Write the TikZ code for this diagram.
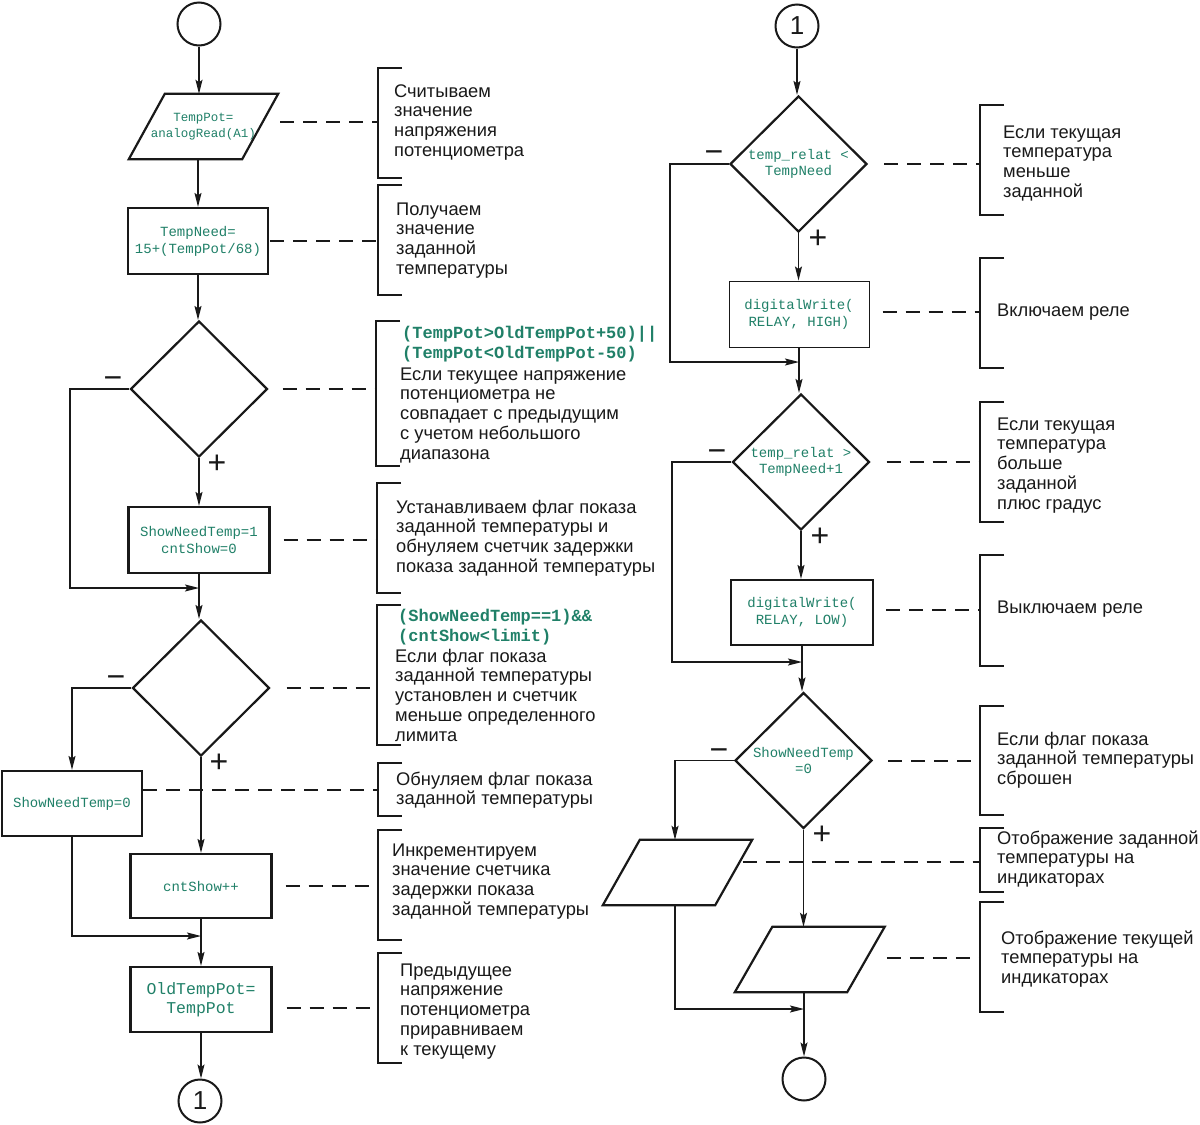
\documentclass[tikz,border=0pt]{standalone}
\usepackage{fontspec}
\setmainfont{Liberation Sans}
\newfontfamily\codefont{Liberation Mono}
\usetikzlibrary{arrows.meta,shapes.geometric}
\definecolor{codegreen}{RGB}{32,128,104}
\definecolor{ink}{RGB}{25,25,25}
\newcommand\firststrut{\rule{0pt}{16pt}}
\begin{document}
\begin{tikzpicture}[x=1pt,y=-1pt,
  every node/.style={inner sep=0pt},
  arr/.style={line width=1.4pt, draw=ink, -{Stealth[length=14pt,width=7pt,inset=2.5pt]}},
  shapeln/.style={draw=ink, line width=2.2pt, line join=miter},
  procbox/.style={draw=ink, line width=2.2pt, rectangle, align=center, text=codegreen,
    font=\codefont\fontsize{14}{17}\selectfont},
  decision/.style={draw=ink, line width=2.2pt, diamond, aspect=1, minimum width=137pt,
    minimum height=136pt, align=center, text=codegreen, font=\codefont\fontsize{14}{16.5}\selectfont},
  pbox/.style={rectangle, minimum width=113pt, minimum height=65pt, align=center, text=codegreen,
    font=\codefont\fontsize{12.5}{16}\selectfont},
  term/.style={draw=ink, circle, line width=2pt, minimum size=43pt, font=\fontsize{26}{26}\selectfont, text=ink},
  sign/.style={font=\fontsize{32}{32}\selectfont, text=ink},
  dashln/.style={draw=ink, line width=1.8pt, dash pattern=on 14pt off 9pt},
  brk/.style={draw=ink, line width=1.4pt},
  note/.style={anchor=north west, align=left, font=\fontsize{18.3}{19.7}\selectfont, text=ink},
  codenote/.style={anchor=north west, align=left, font=\codefont\bfseries\fontsize{17}{20}\selectfont, text=codegreen}
]
\fill[white] (0,0) rectangle (1200,1125);
\useasboundingbox (0,0) rectangle (1200,1125);

% ---------------- left column ----------------
\node[term] (s0) at (199,24) {};
\node[pbox] (p1) at (203.5,126.5) {TempPot=\\analogRead(A1)};
\draw[shapeln] ([xshift=18pt]p1.north west) -- ([xshift=18pt]p1.north east) -- ([xshift=-18pt]p1.south east) -- ([xshift=-18pt]p1.south west) -- cycle;
\node[procbox, minimum width=140pt, minimum height=66pt] (b1) at (198,241) {TempNeed=\\15+(TempPot/68)};
\node[decision] (d1) at (199,389) {};
\node[procbox, minimum width=141pt, minimum height=66pt] (b2) at (199,540) {ShowNeedTemp=1\\cntShow=0};
\node[decision] (d2) at (201,688) {};
\node[procbox, minimum width=140pt, minimum height=65pt] (b3) at (72,803.5) {ShowNeedTemp=0};
\node[procbox, minimum width=141pt, minimum height=64pt] (b4) at (201,886) {cntShow++};
\node[procbox, minimum width=141pt, minimum height=65pt, font=\codefont\fontsize{16.5}{19}\selectfont] (b5) at (201,999.5) {OldTempPot=\\TempPot};
\node[term] (e1) at (200,1101) {1};

\node[sign] (d1m) at (113,383) {−};
\node[sign] (d1p) at (217,464) {+};
\node[sign] (d2m) at (116,682) {−};
\node[sign] (d2p) at (219,763) {+};

\coordinate (m1) at (199,588);
\coordinate (k1) at (70,588);
\coordinate (m2) at (201,936);

\draw[arr] (s0) -- (s0 |- p1.north);
\draw[arr] (b1.north |- p1.south) -- (b1.north);
\draw[arr] (b1.south) -- (b1.south |- d1.north);
\draw[arr] (d1.south) -- (d1.south |- b2.north);
\draw[arr] (d1.west) -| (k1) -- (m1);
\draw[arr] (b2.south) -- (b2.south |- d2.north);
\draw[arr] (d2.west) -| (b3.north);
\draw[arr] (d2.south) -- (d2.south |- b4.north);
\draw[arr] (b3.south) |- (m2);
\draw[arr] (b4.south) -- (b5.north);
\draw[arr] (b5.south) -- (b5.south |- e1.north);

% ---------------- right column ----------------
\node[term] (s1) at (797,26) {1};
\node[decision] (d3) at (798.5,164) {temp\_relat <\\TempNeed};
\node[procbox, line width=1pt, minimum width=140pt, minimum height=66pt] (b6) at (799,314) {digitalWrite(\\RELAY, HIGH)};
\node[decision] (d4) at (801,462) {temp\_relat >\\TempNeed+1};
\node[procbox, minimum width=142pt, minimum height=65pt] (b7) at (802,612.5) {digitalWrite(\\RELAY, LOW)};
\node[decision] (d5) at (803.5,760.5) {ShowNeedTemp\\=0};
\node[pbox, minimum width=112pt] (p2) at (677.5,872.5) {};
\draw[shapeln] ([xshift=18.5pt]p2.north west) -- ([xshift=18.5pt]p2.north east) -- ([xshift=-18.5pt]p2.south east) -- ([xshift=-18.5pt]p2.south west) -- cycle;
\node[pbox, minimum width=112pt] (p3) at (809.75,959.5) {};
\draw[shapeln] ([xshift=18.75pt]p3.north west) -- ([xshift=18.75pt]p3.north east) -- ([xshift=-18.75pt]p3.south east) -- ([xshift=-18.75pt]p3.south west) -- cycle;
\node[term] (e2) at (804,1079) {};

\node[sign] (d3m) at (714,157) {−};
\node[sign] (d3p) at (818,239) {+};
\node[sign] (d4m) at (717,456) {−};
\node[sign] (d4p) at (820,537) {+};
\node[sign] (d5m) at (719,755) {−};
\node[sign] (d5p) at (822,835) {+};

\coordinate (m3) at (799,362);
\coordinate (k3) at (670,362);
\coordinate (m4) at (802,662);
\coordinate (k4) at (672,662);
\coordinate (m5) at (804,1009);

\draw[arr] (s1) -- (s1 |- d3.north);
\draw[arr] (d3.south) -- (d3.south |- b6.north);
\draw[arr] (d3.west) -| (k3) -- (m3);
\draw[arr] (b6.south) -- (b6.south |- d4.north);
\draw[arr] (d4.west) -| (k4) -- (m4);
\draw[arr] (d4.south) -- (d4.south |- b7.north);
\draw[arr] (b7.south) -- (b7.south |- d5.north);
\draw[arr] (d5.west) -| ([xshift=-2.5pt]p2.north);
\draw[arr] (d5.south) -- (d5.south |- p3.north);
\draw[arr] ([xshift=-2.5pt]p2.south) |- (m5);
\draw[arr] (e2.north |- p3.south) -- (e2.north);

% ---------------- brackets ----------------
\coordinate (q1) at (378,122);
\coordinate (q2) at (378,240);
\coordinate (q3) at (376,390);
\coordinate (q4) at (377,538);
\coordinate (q5) at (377,688);
\coordinate (q6) at (378,790);
\coordinate (q7) at (378,885);
\coordinate (q8) at (378,1008);
\coordinate (q9) at (980,163);
\coordinate (q10) at (980,312);
\coordinate (q11) at (980,462);
\coordinate (q12) at (980,610);
\coordinate (q13) at (980,761);
\coordinate (q14) at (980,862);
\coordinate (q15) at (980,958);

\draw[brk] (402,68) -- (378,68) -- (378,178) -- (402,178);
\draw[brk] (402,185) -- (378,185) -- (378,295) -- (402,295);
\draw[brk] (400,321) -- (376,321) -- (376,466) -- (400,466);
\draw[brk] (401,483) -- (377,483) -- (377,593) -- (401,593);
\draw[brk] (401,605) -- (377,605) -- (377,745) -- (401,745);
\draw[brk] (402,763) -- (378,763) -- (378,816) -- (402,816);
\draw[brk] (402,830) -- (378,830) -- (378,940) -- (402,940);
\draw[brk] (402,953) -- (378,953) -- (378,1063) -- (402,1063);
\draw[brk] (1004,105) -- (980,105) -- (980,215) -- (1004,215);
\draw[brk] (1004,258) -- (980,258) -- (980,368) -- (1004,368);
\draw[brk] (1004,402) -- (980,402) -- (980,522) -- (1004,522);
\draw[brk] (1004,555) -- (980,555) -- (980,666) -- (1004,666);
\draw[brk] (1004,706) -- (980,706) -- (980,815) -- (1004,815);
\draw[brk] (1004,828) -- (980,828) -- (980,892) -- (1004,892);
\draw[brk] (1004,902) -- (980,902) -- (980,1012) -- (1004,1012);

% ---------------- dashed leaders ----------------
\draw[dashln] ([xshift=20pt,yshift=4.5pt]p1.east) -- (q1);
\draw[dashln] ([xshift=1pt]b1.east) -- (b1.east -| q2);
\draw[dashln] ([xshift=14pt]d1.east) -- (d1.east -| q3);
\draw[dashln] ([xshift=13pt]b2.east) -- (b2.east -| q4);
\draw[dashln] ([xshift=16pt]d2.east) -- (d2.east -| q5);
\draw[dashln] ([yshift=13.5pt]b3.east) -- (q6);
\draw[dashln] ([xshift=13pt]b4.east) -- (b4.east -| q7);
\draw[dashln] ([xshift=14pt,yshift=-8.5pt]b5.east) -- (q8);
\draw[dashln] ([xshift=16pt]d3.east) -- (d3.east -| q9);
\draw[dashln] ([xshift=13pt,yshift=2pt]b6.east) -- (q10);
\draw[dashln] ([xshift=16pt]d4.east) -- (d4.east -| q11);
\draw[dashln] ([xshift=12pt,yshift=2.5pt]b7.east) -- (q12);
\draw[dashln] ([xshift=15pt,yshift=-0.5pt]d5.east) -- (q13);
\draw[dashln] ([xshift=9pt,yshift=10.5pt]p2.east) -- (q14);
\draw[dashln] ([xshift=21pt,yshift=1.5pt]p3.east) -- (q15);

% ---------------- annotation texts ----------------
\node[note] (t1) at (394,81) {\firststrut Считываем\\значение\\напряжения\\потенциометра};
\node[note] (t2) at (396,199) {\firststrut Получаем\\значение\\заданной\\температуры};
\node[codenote] (c3) at (402,322) {\firststrut (TempPot>OldTempPot+50)||\\(TempPot<OldTempPot-50)};
\node[note] (t3) at (400,364) {\firststrut Если текущее напряжение\\потенциометра не\\совпадает с предыдущим\\с учетом небольшого\\диапазона};
\node[note] (t4) at (396,497) {\firststrut Устанавливаем флаг показа\\заданной температуры и\\обнуляем счетчик задержки\\показа заданной температуры};
\node[codenote] (c5) at (398,605) {\firststrut (ShowNeedTemp==1)\&\&\\(cntShow<limit)};
\node[note] (t5) at (395,646) {\firststrut Если флаг показа\\заданной температуры\\установлен и счетчик\\меньше определенного\\лимита};
\node[note] (t6) at (396,769) {\firststrut Обнуляем флаг показа\\заданной температуры};
\node[note] (t7) at (392,840) {\firststrut Инкрементируем\\значение счетчика\\задержки показа\\заданной температуры};
\node[note] (t8) at (400,960) {\firststrut Предыдущее\\напряжение\\потенциометра\\приравниваем\\к текущему};
\node[note] (t9) at (1003,122) {\firststrut Если текущая\\температура\\меньше\\заданной};
\node[note] (t10) at (997,300) {\firststrut Включаем реле};
\node[note] (t11) at (997,414) {\firststrut Если текущая\\температура\\больше\\заданной\\плюс градус};
\node[note] (t12) at (997,597) {\firststrut Выключаем реле};
\node[note] (t13) at (997,729) {\firststrut Если флаг показа\\заданной температуры\\сброшен};
\node[note] (t14) at (997,828) {\firststrut Отображение заданной\\температуры на\\индикаторах};
\node[note] (t15) at (1001,928) {\firststrut Отображение текущей\\температуры на\\индикаторах};
\end{tikzpicture}
\end{document}
